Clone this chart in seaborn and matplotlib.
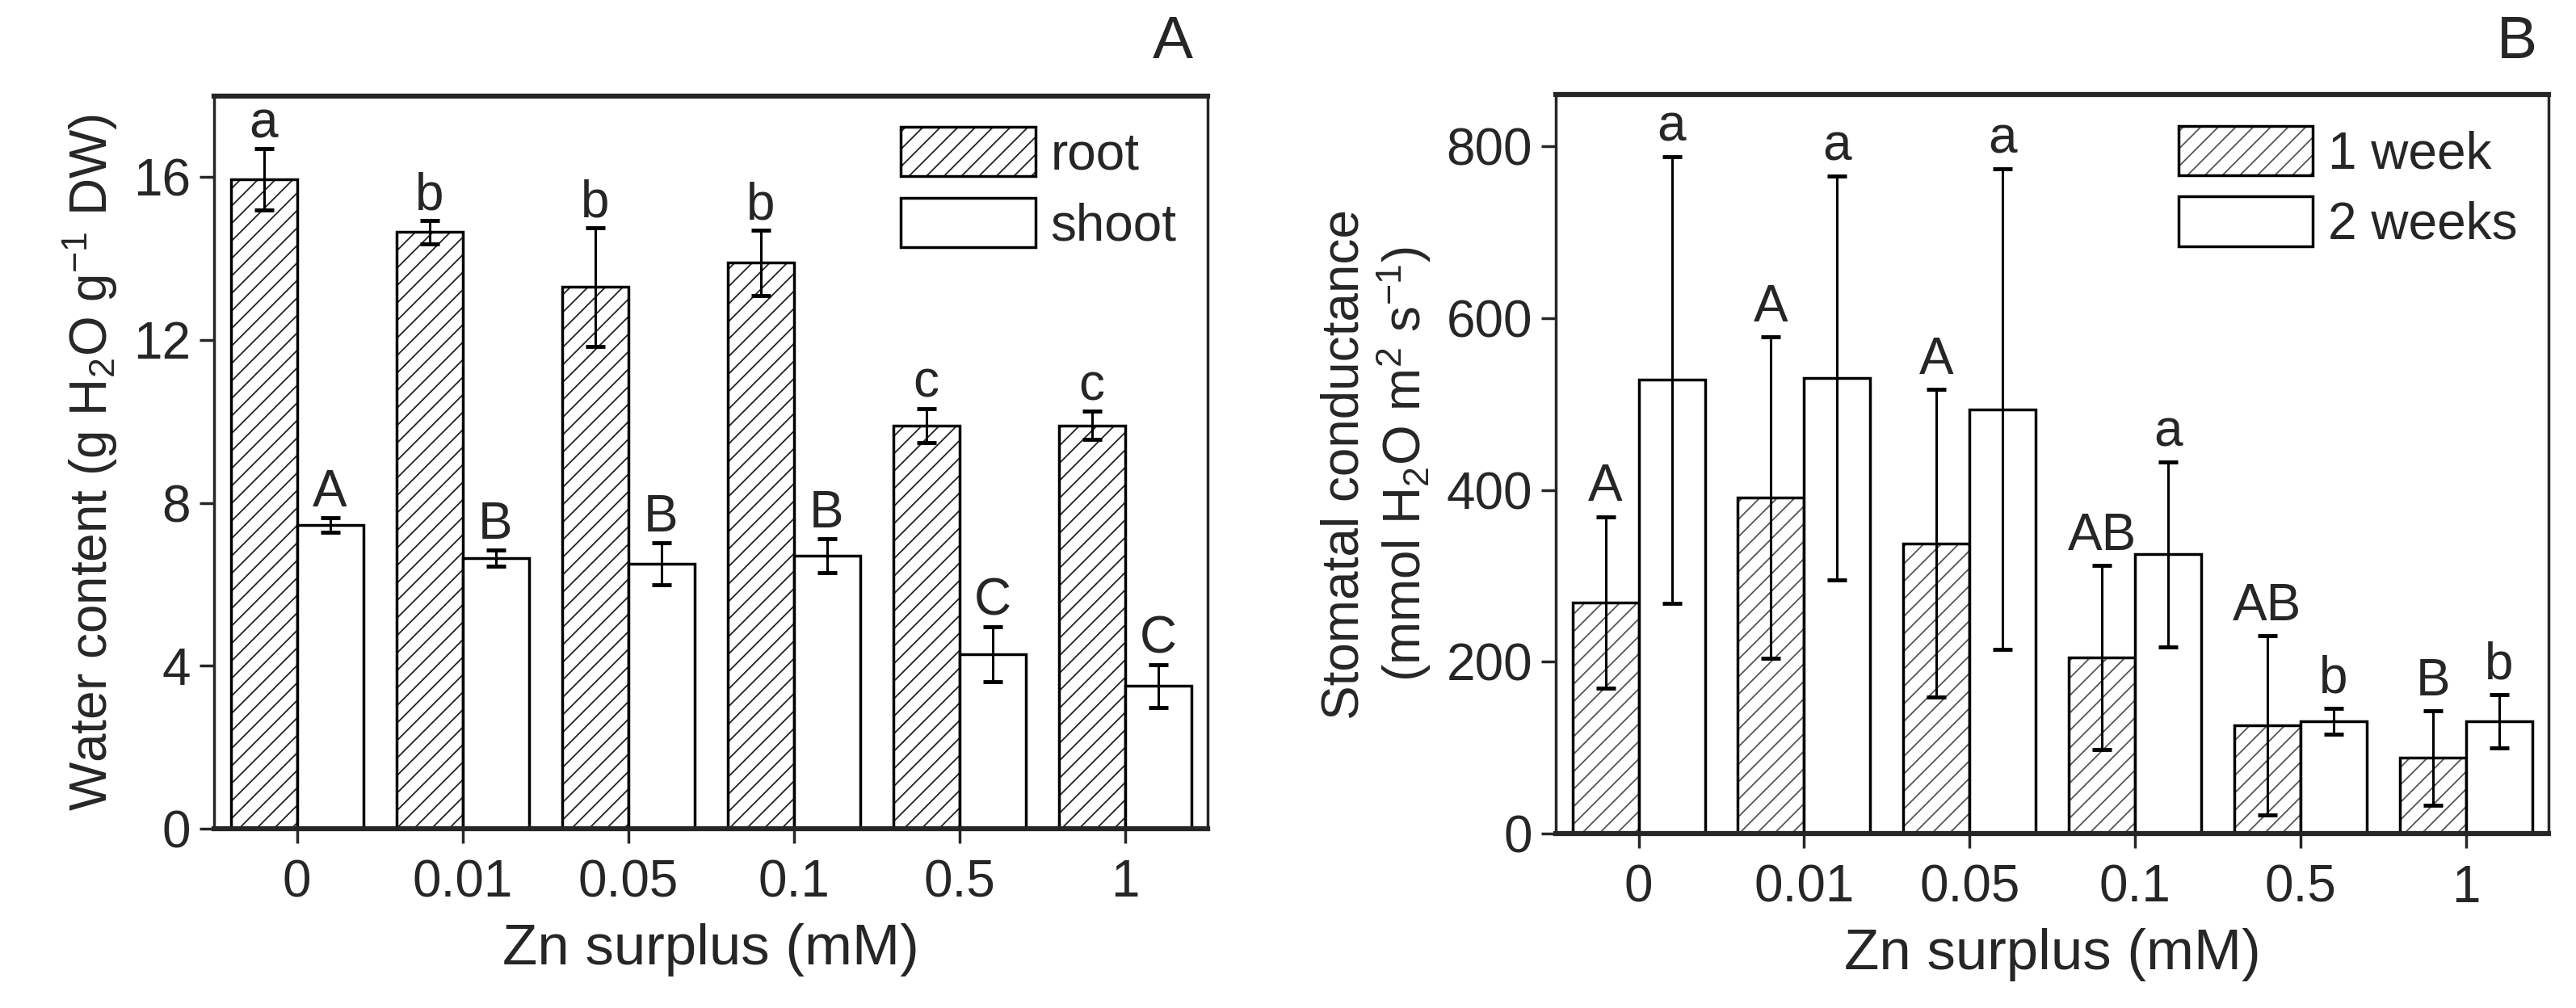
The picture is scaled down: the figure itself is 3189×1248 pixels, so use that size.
import matplotlib
matplotlib.use("Agg")
import matplotlib.pyplot as plt
from matplotlib.patches import Patch
import pandas as pd
import seaborn as sns

# data
conc = ["0", "0.01", "0.05", "0.1", "0.5", "1"]

root = [15.95, 14.65, 13.3, 13.9, 9.9, 9.9]
root_err = [0.75, 0.28, 1.45, 0.8, 0.42, 0.35]
shoot = [7.45, 6.65, 6.5, 6.7, 4.28, 3.5]
shoot_err = [0.18, 0.2, 0.52, 0.42, 0.68, 0.53]
root_letters = ["a", "b", "b", "b", "c", "c"]
shoot_letters = ["A", "B", "B", "B", "C", "C"]

week1 = [269, 391, 338, 205, 126, 88]
week1_err = [100, 187, 179, 107, 104, 55]
week2 = [528, 530, 494, 325, 131, 131]
week2_err = [260, 235, 280, 108, 15, 31]
week1_letters = ["A", "A", "A", "AB", "AB", "B"]
week2_letters = ["a", "a", "a", "a", "b", "b"]

DPI = 130
S = 100 / DPI  # sizes below were tuned in pixels/100

sns.set_style("ticks")
plt.rcParams["font.family"] = ["Liberation Sans", "DejaVu Sans"]
plt.rcParams["mathtext.fontset"] = "custom"
plt.rcParams["mathtext.rm"] = "Liberation Sans"
plt.rcParams["mathtext.it"] = "Liberation Sans:italic"
plt.rcParams["hatch.linewidth"] = 1.3 * S
FS = 46 * S

fig = plt.figure(figsize=(3189 / DPI, 1248 / DPI), dpi=DPI)
axA = fig.add_axes([0.0831, 0.178, 0.3857, 0.727])
axB = fig.add_axes([0.604, 0.173, 0.3854, 0.733])


def panel(ax, s1, e1, s2, e2, l1, l2, names, hcolor, ylim, yticks, gap):
    df = pd.DataFrame({
        "conc": conc * 2,
        "group": [names[0]] * len(conc) + [names[1]] * len(conc),
        "value": s1 + s2,
    })
    sns.barplot(data=df, x="conc", y="value", hue="group", order=conc,
                hue_order=names, palette=["white", "white"], edgecolor="black",
                linewidth=2.5 * S, errorbar=None, legend=False, ax=ax, zorder=2)
    for bar in ax.containers[0]:
        bar.set_hatch("//")
        bar._hatch_color = matplotlib.colors.to_rgba(hcolor)
    for cont, vals, errs, labs in zip(ax.containers, [s1, s2], [e1, e2], [l1, l2]):
        xs = [b.get_x() + b.get_width() / 2 for b in cont]
        ax.errorbar(xs, vals, yerr=errs, fmt="none", ecolor="black",
                    elinewidth=2.2 * S, capsize=8.5 * S, capthick=3.5 * S, zorder=3)
        for x, v, e, t in zip(xs, vals, errs, labs):
            ax.annotate(t, (x, v + e), xytext=(0, gap * S), textcoords="offset points",
                        ha="center", va="baseline", fontsize=FS)
    ax.set_xlim(-0.5, 5.5)
    ax.set_ylim(*ylim)
    ax.set_yticks(yticks)
    ax.tick_params(axis="both", direction="out", length=13 * S, width=2.5 * S,
                   labelsize=FS, pad=8 * S)
    ax.tick_params(axis="x", pad=14 * S)
    for side in ["left", "right"]:
        ax.spines[side].set_linewidth(2.5 * S)
    for side in ["top", "bottom"]:
        ax.spines[side].set_linewidth(4.5 * S)
    ax.set_xlabel("Zn surplus (mM)", fontsize=51 * S, labelpad=14 * S)
    hp = Patch(facecolor="white", edgecolor="black", hatch="//", linewidth=2.5 * S)
    hp._hatch_color = matplotlib.colors.to_rgba(hcolor)
    handles = [hp, Patch(facecolor="white", edgecolor="black", linewidth=2.5 * S)]
    leg = ax.legend(handles, names, loc="upper right", frameon=False, fontsize=FS,
                    handlelength=2.6, handleheight=1.1, handletextpad=0.3,
                    labelspacing=0.35, borderaxespad=0.3, borderpad=0.3)
    for p in leg.get_patches()[:1]:
        p._hatch_color = matplotlib.colors.to_rgba(hcolor)


panel(axA, root, root_err, shoot, shoot_err, root_letters, shoot_letters,
      ["root", "shoot"], "#222222", (0, 18), [0, 4, 8, 12, 16], 10)
axA.set_ylabel("Water content (g H$_2$O g$^{-1}$ DW)", fontsize=FS, labelpad=12 * S)

panel(axB, week1, week1_err, week2, week2_err, week1_letters, week2_letters,
      ["1 week", "2 weeks"], "#555555", (0, 860), [0, 200, 400, 600, 800], 14)
axB.set_ylabel("Stomatal conductance\n(mmol H$_2$O m$^2$ s$^{-1}$)", fontsize=FS,
               labelpad=12 * S, linespacing=1.1)

fig.text(0.463, 0.93, "A", fontsize=54 * S, ha="right", va="bottom")
fig.text(0.985, 0.93, "B", fontsize=54 * S, ha="right", va="bottom")

fig.savefig("out.png", dpi=DPI)
